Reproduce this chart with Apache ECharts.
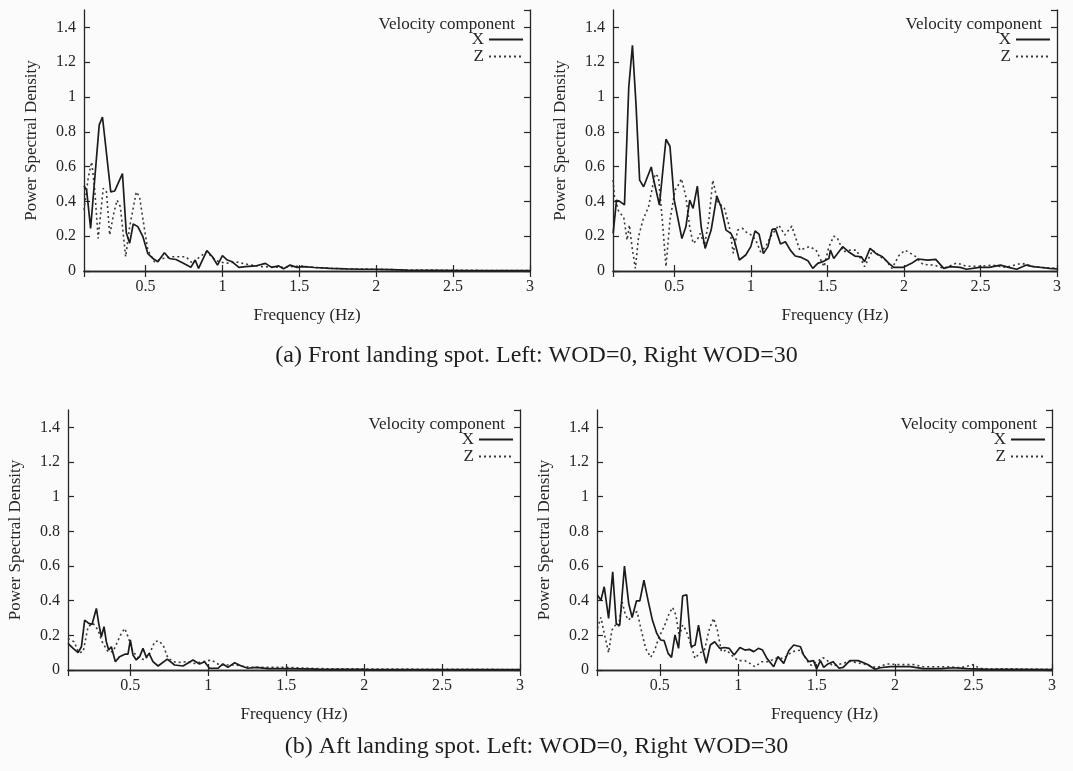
<!DOCTYPE html>
<html>
<head>
<meta charset="utf-8">
<script src="https://cdn.jsdelivr.net/npm/echarts@6/dist/echarts.min.js"></script>
<style>
  html, body { margin: 0; padding: 0; background: #fbfbfb; }
  #main { width: 1073px; height: 771px; }
</style>
</head>
<body>
<div id="main"></div>
<script>
// [frequency (Hz), power spectral density]
const frontWod0X = [[0.1,0.49],[0.117,0.465],[0.143,0.245],[0.199,0.84],[0.22,0.885],[0.274,0.455],[0.3,0.46],[0.35,0.56],[0.375,0.22],[0.397,0.16],[0.42,0.27],[0.45,0.255],[0.483,0.197],[0.515,0.1],[0.548,0.072],[0.58,0.053],[0.623,0.105],[0.655,0.072],[0.698,0.066],[0.74,0.047],[0.795,0.021],[0.823,0.063],[0.845,0.015],[0.899,0.117],[0.935,0.082],[0.968,0.034],[1.0,0.088],[1.032,0.063],[1.064,0.053],[1.107,0.021],[1.15,0.025],[1.215,0.029],[1.28,0.044],[1.32,0.021],[1.366,0.029],[1.398,0.013],[1.44,0.034],[1.485,0.021],[1.527,0.025],[1.6,0.02],[1.7,0.015],[1.8,0.012],[1.9,0.01],[2.0,0.01],[2.1,0.008],[2.2,0.005],[2.4,0.004],[2.6,0.003],[2.8,0.002],[3.0,0.002]];
const frontWod0Z = [[0.1,0.35],[0.128,0.54],[0.15,0.627],[0.17,0.465],[0.192,0.187],[0.225,0.475],[0.246,0.455],[0.267,0.207],[0.293,0.33],[0.315,0.407],[0.336,0.37],[0.371,0.082],[0.397,0.255],[0.44,0.455],[0.461,0.427],[0.494,0.236],[0.515,0.12],[0.558,0.053],[0.612,0.072],[0.677,0.082],[0.763,0.082],[0.806,0.044],[0.853,0.082],[0.897,0.11],[0.957,0.06],[1.02,0.044],[1.086,0.053],[1.15,0.04],[1.258,0.025],[1.387,0.021],[1.516,0.029],[1.6,0.02],[1.8,0.012],[2.0,0.01],[2.2,0.006],[2.5,0.004],[3.0,0.002]];
const frontWod30X = [[0.101,0.216],[0.123,0.407],[0.144,0.40],[0.175,0.38],[0.203,1.057],[0.227,1.297],[0.25,0.962],[0.274,0.522],[0.3,0.484],[0.35,0.598],[0.364,0.53],[0.403,0.379],[0.446,0.757],[0.472,0.717],[0.5,0.407],[0.55,0.187],[0.576,0.254],[0.601,0.407],[0.623,0.36],[0.651,0.488],[0.676,0.254],[0.702,0.13],[0.741,0.235],[0.778,0.43],[0.806,0.368],[0.838,0.235],[0.87,0.216],[0.892,0.178],[0.925,0.063],[0.967,0.092],[1.0,0.14],[1.028,0.23],[1.054,0.212],[1.082,0.1],[1.112,0.14],[1.14,0.24],[1.161,0.242],[1.194,0.155],[1.226,0.168],[1.258,0.12],[1.29,0.086],[1.331,0.078],[1.373,0.059],[1.405,0.015],[1.437,0.044],[1.479,0.057],[1.51,0.072],[1.52,0.12],[1.542,0.072],[1.6,0.14],[1.638,0.111],[1.68,0.086],[1.722,0.082],[1.743,0.053],[1.779,0.13],[1.817,0.101],[1.86,0.082],[1.902,0.044],[1.934,0.021],[1.997,0.021],[2.05,0.044],[2.092,0.069],[2.156,0.063],[2.208,0.067],[2.26,0.015],[2.303,0.025],[2.367,0.021],[2.409,0.01],[2.494,0.021],[2.557,0.021],[2.631,0.034],[2.684,0.021],[2.737,0.01],[2.8,0.034],[2.843,0.025],[2.9,0.02],[2.95,0.015],[3.0,0.012]];
const frontWod30Z = [[0.1,0.522],[0.11,0.427],[0.138,0.34],[0.17,0.31],[0.192,0.178],[0.207,0.264],[0.224,0.14],[0.246,0.015],[0.267,0.197],[0.295,0.292],[0.332,0.369],[0.375,0.557],[0.397,0.541],[0.424,0.273],[0.446,0.025],[0.472,0.292],[0.505,0.465],[0.526,0.493],[0.547,0.53],[0.576,0.427],[0.601,0.254],[0.623,0.159],[0.649,0.178],[0.67,0.216],[0.698,0.149],[0.726,0.292],[0.752,0.522],[0.784,0.398],[0.828,0.36],[0.86,0.254],[0.886,0.101],[0.914,0.235],[0.946,0.245],[0.979,0.216],[1.006,0.207],[1.032,0.178],[1.064,0.11],[1.097,0.14],[1.129,0.197],[1.183,0.264],[1.222,0.207],[1.268,0.258],[1.32,0.12],[1.384,0.14],[1.426,0.12],[1.479,0.025],[1.51,0.139],[1.542,0.2],[1.563,0.193],[1.606,0.111],[1.648,0.12],[1.69,0.12],[1.743,0.025],[1.796,0.12],[1.839,0.086],[1.88,0.063],[1.923,0.015],[1.965,0.086],[2.007,0.12],[2.07,0.088],[2.124,0.038],[2.197,0.034],[2.26,0.015],[2.346,0.046],[2.409,0.027],[2.494,0.027],[2.578,0.034],[2.663,0.021],[2.769,0.044],[2.843,0.027],[2.9,0.02],[3.0,0.015]];
const aftWod0X = [[0.1,0.154],[0.133,0.125],[0.165,0.1],[0.186,0.134],[0.207,0.288],[0.233,0.269],[0.254,0.263],[0.282,0.355],[0.297,0.269],[0.314,0.192],[0.331,0.25],[0.346,0.163],[0.361,0.115],[0.378,0.134],[0.404,0.048],[0.431,0.077],[0.468,0.092],[0.485,0.092],[0.5,0.173],[0.517,0.086],[0.538,0.058],[0.56,0.077],[0.581,0.125],[0.603,0.073],[0.62,0.096],[0.645,0.048],[0.678,0.023],[0.737,0.063],[0.784,0.029],[0.838,0.023],[0.902,0.058],[0.944,0.035],[0.976,0.048],[1.008,0.01],[1.062,0.01],[1.094,0.035],[1.126,0.015],[1.169,0.042],[1.212,0.023],[1.254,0.01],[1.308,0.015],[1.383,0.008],[1.51,0.008],[1.7,0.005],[2.0,0.004],[2.5,0.003],[3.0,0.002]];
const aftWod0Z = [[0.1,0.182],[0.139,0.163],[0.169,0.1],[0.197,0.105],[0.229,0.25],[0.261,0.269],[0.293,0.23],[0.319,0.163],[0.357,0.105],[0.389,0.105],[0.417,0.163],[0.442,0.211],[0.464,0.24],[0.485,0.192],[0.517,0.105],[0.549,0.073],[0.592,0.058],[0.624,0.096],[0.656,0.163],[0.681,0.169],[0.71,0.144],[0.742,0.067],[0.795,0.042],[0.859,0.048],[0.912,0.038],[0.966,0.048],[1.019,0.058],[1.072,0.029],[1.169,0.029],[1.276,0.015],[1.383,0.015],[1.51,0.015],[1.7,0.008],[2.0,0.006],[2.5,0.004],[3.0,0.003]];
const aftWod30X = [[0.103,0.432],[0.125,0.403],[0.146,0.48],[0.174,0.298],[0.2,0.566],[0.223,0.265],[0.245,0.259],[0.275,0.599],[0.302,0.384],[0.324,0.303],[0.352,0.399],[0.373,0.399],[0.399,0.518],[0.425,0.403],[0.453,0.288],[0.481,0.211],[0.506,0.173],[0.528,0.169],[0.553,0.096],[0.575,0.073],[0.597,0.202],[0.62,0.125],[0.646,0.428],[0.672,0.434],[0.7,0.134],[0.725,0.144],[0.747,0.259],[0.77,0.134],[0.796,0.038],[0.822,0.144],[0.85,0.163],[0.882,0.125],[0.914,0.13],[0.942,0.125],[0.974,0.086],[1.011,0.13],[1.043,0.115],[1.071,0.119],[1.099,0.106],[1.129,0.125],[1.155,0.115],[1.183,0.067],[1.226,0.019],[1.253,0.077],[1.29,0.038],[1.322,0.111],[1.354,0.144],[1.397,0.134],[1.417,0.086],[1.45,0.048],[1.48,0.054],[1.5,0.006],[1.524,0.054],[1.545,0.015],[1.572,0.035],[1.604,0.048],[1.643,0.01],[1.669,0.015],[1.712,0.054],[1.765,0.054],[1.819,0.035],[1.872,0.004],[1.904,0.013],[1.968,0.019],[2.032,0.019],[2.096,0.019],[2.18,0.008],[2.29,0.008],[2.37,0.013],[2.46,0.008],[2.59,0.004],[2.76,0.004],[3.0,0.003]];
const aftWod30Z = [[0.103,0.24],[0.125,0.303],[0.146,0.211],[0.174,0.1],[0.195,0.23],[0.217,0.259],[0.238,0.25],[0.26,0.393],[0.281,0.317],[0.302,0.288],[0.331,0.326],[0.356,0.336],[0.382,0.23],[0.41,0.125],[0.442,0.073],[0.468,0.115],[0.496,0.192],[0.528,0.25],[0.56,0.326],[0.582,0.361],[0.603,0.317],[0.624,0.192],[0.646,0.259],[0.667,0.23],[0.695,0.154],[0.725,0.067],[0.753,0.096],[0.785,0.115],[0.817,0.24],[0.843,0.298],[0.867,0.23],[0.893,0.106],[0.925,0.115],[0.968,0.077],[1.0,0.054],[1.043,0.054],[1.075,0.038],[1.107,0.019],[1.15,0.048],[1.193,0.048],[1.236,0.067],[1.29,0.067],[1.344,0.106],[1.397,0.115],[1.451,0.038],[1.466,0.027],[1.54,0.071],[1.56,0.061],[1.604,0.023],[1.712,0.05],[1.82,0.031],[1.88,0.013],[1.947,0.035],[2.03,0.031],[2.117,0.031],[2.18,0.019],[2.33,0.019],[2.417,0.013],[2.5,0.031],[2.54,0.008],[2.8,0.006],[3.0,0.004]];

const seriesNames = ['X', 'Z'];
const legendTitle = 'Velocity component';
const xName = 'Frequency (Hz)';
const yName = 'Power Spectral Density';
const captions = [
  '(a) Front landing spot. Left: WOD=0, Right WOD=30',
  '(b) Aft landing spot. Left: WOD=0, Right WOD=30'
];

const font = 'Liberation Serif';
const ink = '#262626';

// panel boxes in pixels
const panels = [
  { x: frontWod0X, z: frontWod0Z, left: 84, top: 10, width: 446, height: 261 },
  { x: frontWod30X, z: frontWod30Z, left: 613, top: 10, width: 444, height: 261 },
  { x: aftWod0X, z: aftWod0Z, left: 68, top: 410, width: 452, height: 260 },
  { x: aftWod30X, z: aftWod30Z, left: 597, top: 410, width: 455, height: 260 }
];

const W = 1073;
const chart = echarts.init(document.getElementById('main'), null, { renderer: 'canvas' });

const frameLine = { show: true, lineStyle: { color: ink, width: 1.3 } };
const inTick = { show: true, inside: true, length: 6, lineStyle: { color: ink, width: 1.2 } };
const labelStyle = { fontFamily: font, fontSize: 16, color: ink };

const grid = [], xAxis = [], yAxis = [], series = [], legend = [], title = [];

panels.forEach((p, i) => {
  grid.push({ left: p.left, top: p.top, width: p.width, height: p.height, containLabel: false });
  const xBase = {
    type: 'value', gridIndex: i, min: 0.1, max: 3, splitNumber: 6,
    axisLine: frameLine, axisTick: inTick, splitLine: { show: false }
  };
  xAxis.push(Object.assign({}, xBase, {
    position: 'bottom',
    name: xName, nameLocation: 'middle', nameGap: 36,
    nameTextStyle: { fontFamily: font, fontSize: 17, color: ink },
    axisLabel: Object.assign({ margin: 8, showMinLabel: false }, labelStyle)
  }));
  xAxis.push(Object.assign({}, xBase, { position: 'top', axisLabel: { show: false } }));
  const yBase = {
    type: 'value', gridIndex: i, min: 0, max: 1.5, interval: 0.2,
    axisLine: frameLine, axisTick: inTick, splitLine: { show: false }
  };
  yAxis.push(Object.assign({}, yBase, {
    position: 'left',
    name: yName, nameLocation: 'middle', nameGap: 44,
    nameTextStyle: { fontFamily: font, fontSize: 17, color: ink },
    axisLabel: Object.assign({ margin: 8, showMaxLabel: false }, labelStyle)
  }));
  yAxis.push(Object.assign({}, yBase, { position: 'right', axisLabel: { show: false } }));

  series.push({
    type: 'line', name: seriesNames[0], xAxisIndex: 2 * i, yAxisIndex: 2 * i,
    data: p.x, symbol: 'none', animation: false,
    lineStyle: { color: '#1c1c1c', width: 1.7 }, itemStyle: { color: '#1c1c1c' }, z: 3
  });
  series.push({
    type: 'line', name: seriesNames[1], xAxisIndex: 2 * i, yAxisIndex: 2 * i,
    data: p.z, symbol: 'none', animation: false,
    lineStyle: { color: '#3a3a3a', width: 1.6, type: [2, 3] }, itemStyle: { color: '#3a3a3a' }, z: 2
  });

  const rightEdge = p.left + p.width;
  title.push({
    text: legendTitle, right: W - (rightEdge - 10), top: p.top + 1,
    textStyle: { fontFamily: font, fontSize: 17, fontWeight: 'normal', color: ink }
  });
  legend.push({
    data: seriesNames, orient: 'vertical', align: 'right',
    right: W - (rightEdge - 6), top: p.top + 21,
    itemWidth: 34, itemHeight: 12, itemGap: 0, padding: 0,
    selectedMode: false,
    itemStyle: { color: 'rgba(0,0,0,0)', borderWidth: 0 },
    textStyle: { fontFamily: font, fontSize: 17, color: ink }
  });
});

captions.forEach((c, k) => {
  title.push({
    text: c, left: 'center', top: k === 0 ? 339 : 730,
    textStyle: { fontFamily: font, fontSize: 24, fontWeight: 'normal', color: '#1e1e1e' }
  });
});

chart.setOption({
  backgroundColor: '#fbfbfb',
  animation: false,
  title: title,
  legend: legend,
  grid: grid,
  xAxis: xAxis,
  yAxis: yAxis,
  series: series
});
</script>
</body>
</html>
